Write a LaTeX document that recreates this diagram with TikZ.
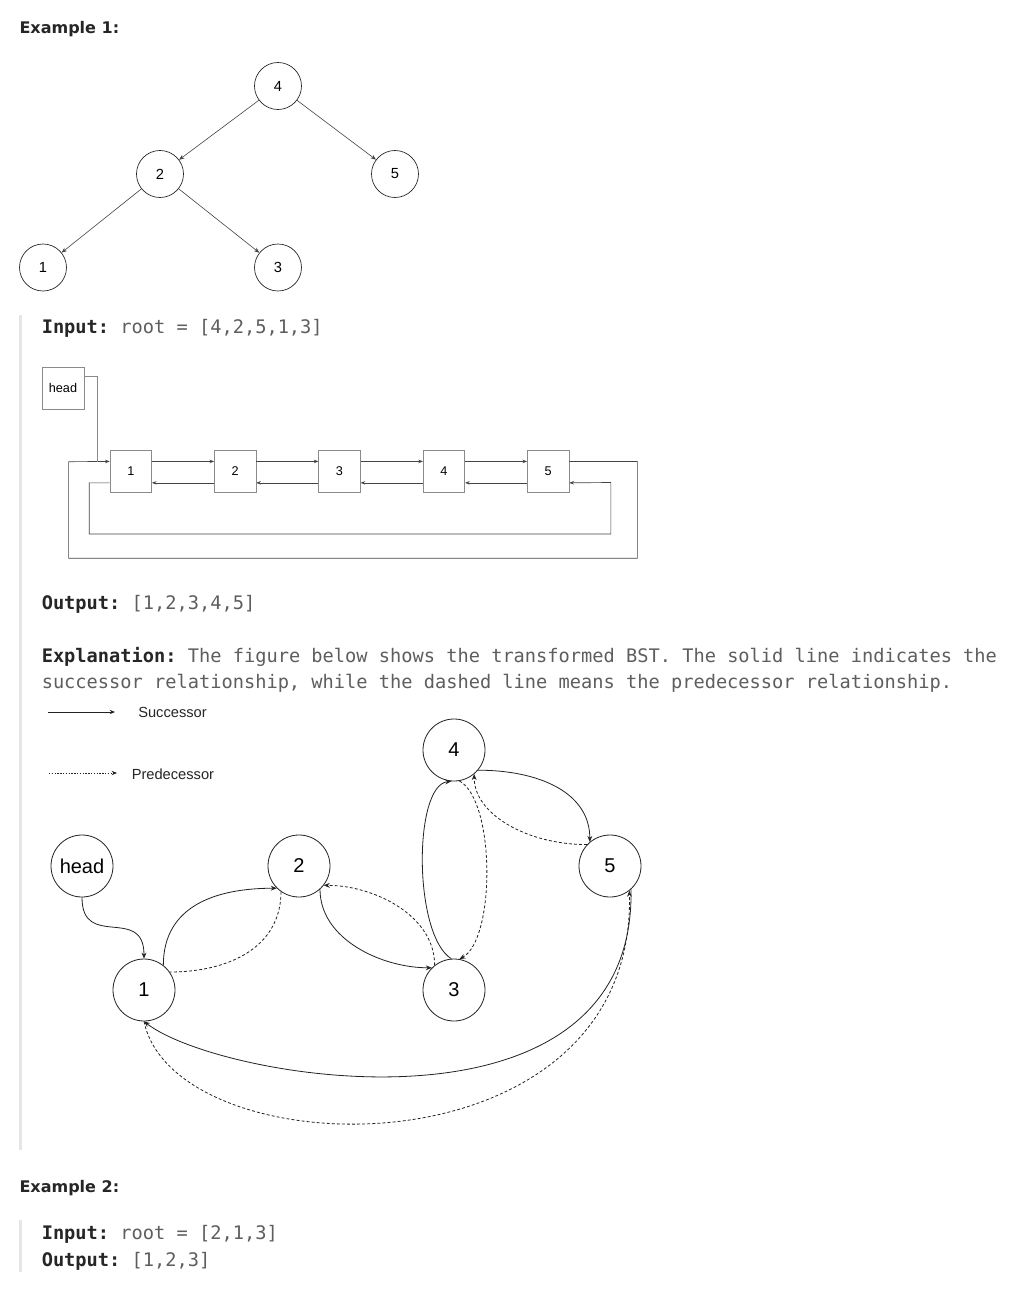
\documentclass[tikz,border=0pt]{standalone}
\usepackage{fontspec}
\setmainfont{Liberation Sans}
\newfontfamily\monof{DejaVu Sans Mono}
\newfontfamily\headf{DejaVu Sans}
\usetikzlibrary{arrows.meta,calc}
\definecolor{txt}{HTML}{262626}
\definecolor{gtx}{HTML}{5E5E5E}
\definecolor{barc}{HTML}{E6E6E6}
\definecolor{ln}{HTML}{222222}
\definecolor{lst}{HTML}{444444}
\definecolor{lbx}{HTML}{8A8A8A}
\frenchspacing
\begin{document}
\begin{tikzpicture}[x=0.75pt,y=-0.75pt,
  txtnode/.style={anchor=base west,inner sep=0pt,text=txt},
  codefont/.style={font=\monof\frenchspacing\fontsize{14}{16}\selectfont},
  headfont/.style={font=\headf\bfseries\fontsize{12}{14}\selectfont},
  tnode/.style={circle,draw=ln,line width=0.5pt,minimum size=35.25pt,inner sep=0pt,font=\fontsize{11}{13}\selectfont},
  tedge/.style={line width=0.45pt,draw=lst,-{Stealth[length=4pt,width=3.2pt]}},
  lbox/.style={rectangle,draw=lbx,line width=0.5pt,minimum size=31.1pt,inner sep=0pt,font=\fontsize{9.5}{11}\selectfont},
  ledge/.style={line width=0.5pt,draw=lst,-{Stealth[length=3.5pt,width=2.6pt]}},
  bnode/.style={circle,draw=ln,line width=0.6pt,minimum size=46.5pt,inner sep=0pt,font=\fontsize{15}{18}\selectfont},
  succ/.style={line width=0.6pt,draw=ln,-{Stealth[length=4.5pt,width=3.6pt]}},
  pred/.style={succ,dash pattern=on 2.2pt off 1.6pt},
  predline/.style={line width=0.6pt,draw=ln,dash pattern=on 2.2pt off 1.6pt},
  legtext/.style={anchor=base west,inner sep=0pt,text=txt,font=\fontsize{11}{13}\selectfont},
]
\useasboundingbox (0,0) rectangle (1016,1296);
\fill[white] (0,0) rectangle (1016,1296);

% quote bars
\fill[barc] (19,315) rectangle (21.5,1150);
\fill[barc] (19,1220) rectangle (21.5,1272);

% headings and text
\node[txtnode,headfont] (ex1) at (19.3,33.3) {Example 1:};
\node[txtnode,codefont] (in1) at (41.5,333.3) {\textbf{Input:} \textcolor{gtx}{root = [4,2,5,1,3]}};
\node[txtnode,codefont] (out1) at (41.5,609.3) {\textbf{Output:} \textcolor{gtx}{[1,2,3,4,5]}};
\node[txtnode,codefont] (expl1) at (41.5,662.3) {\textbf{Explanation:} \textcolor{gtx}{The figure below shows the transformed BST. The solid line indicates the}};
\node[txtnode,codefont,text=gtx] (expl2) at (41.5,688.3) {successor relationship, while the dashed line means the predecessor relationship.};
\node[txtnode,headfont] (ex2) at (19.3,1192.3) {Example 2:};
\node[txtnode,codefont] (in2) at (41.5,1239.3) {\textbf{Input:} \textcolor{gtx}{root = [2,1,3]}};
\node[txtnode,codefont] (out2) at (41.5,1266.7) {\textbf{Output:} \textcolor{gtx}{[1,2,3]}};

% tree
\node[tnode] (t4) at (278,86) {4};
\node[tnode] (t2) at (160,174) {2};
\node[tnode] (t5) at (395,174) {5};
\node[tnode] (t1) at (43,267.5) {1};
\node[tnode] (t3) at (278,267.5) {3};
\draw[tedge] (t4) -- (t2);
\draw[tedge] (t4) -- (t5);
\draw[tedge] (t2) -- (t1);
\draw[tedge] (t2) -- (t3);

% linked list
\node[lbox,minimum size=31.5pt] (hd) at (63,388) {head};
\foreach \i/\x in {1/130.8,2/235.2,3/339.5,4/444,5/548.2}
  \node[lbox] (b\i) at (\x,471.5) {\i};
\foreach \i/\j in {1/2,2/3,3/4,4/5}{
  \draw[ledge] ([yshift=-8.25pt]b\i.north east) -- ([yshift=-8.25pt]b\j.north west);
  \draw[ledge] ([yshift=7.3pt]b\j.south west) -- ([yshift=7.3pt]b\i.south east);
}
\coordinate (orc) at (637.4,558.3);
\coordinate (olc) at (68.6,461.7);
\coordinate (ilc) at (89.2,534);
\coordinate (irc) at (610.9,482.5);
\coordinate (hj) at (97.6,461.7);
\draw[ledge] ([yshift=-8.25pt]b5.north east) -| (orc) -| (olc) -- ([yshift=-8.25pt]b1.north west);
\draw[ledge] ([yshift=7.3pt]b1.south west) -| (ilc) -| (irc) -- ([yshift=7.3pt]b5.south east);
\draw[line width=0.5pt,draw=lbx] ([yshift=-7.5pt]hd.north east) -| (hj);

% legend
\coordinate (ls1) at (48,712);
\coordinate (ls2) at (115,712);
\coordinate (lp1) at (49,773);
\coordinate (lp2) at (117,773);
\draw[line width=0.6pt,draw=ln,-{Stealth[length=4pt,width=3.2pt]}] (ls1) -- (ls2);
\draw[line width=0.6pt,draw=ln,dash pattern=on 1pt off 1.1pt,-{Stealth[length=4pt,width=3.2pt]}] (lp1) -- (lp2);
\node[legtext] (lsucc) at (138,717.3) {Successor};
\node[legtext] (lpred) at (131.5,779.3) {Predecessor};

% transformed list
\node[bnode] (hh) at (82,866) {head};
\node[bnode] (n1) at (144,990) {1};
\node[bnode] (n2) at (299,866) {2};
\node[bnode] (n3) at (454,990) {3};
\node[bnode] (n4) at (454,750) {4};
\node[bnode] (n5) at (610,866) {5};

\draw[succ] (hh.south) .. controls +(0,53) and +(0,-54) .. (n1.north);
\draw[succ] (n1.52) .. controls +(0,-60) and +(-60,0) .. (n2.225);
\draw[predline] (n2.235) .. controls +(0,55) and +(60,0) .. (n1.35);
\draw[succ] (n2.-48) .. controls +(0,50) and +(-50,0) .. (n3.135);
\draw[pred] (n3.128) .. controls +(0,-50) and +(50,0) .. (n2.-38);
\draw[succ] (n3.95) .. controls +(-38,-24) and +(-38,4) .. (n4.265);
\draw[pred] (n4.280) .. controls +(36,20) and +(36,-20) .. (n3.80);
\draw[succ] (n4.-40) .. controls +(60,0) and +(0,-50) .. (n5.130);
\draw[pred] (n5.137) .. controls +(-60,0) and +(0,40) .. (n4.-50);
\draw[succ] (n5.-48) .. controls +(5,261) and +(76,59) .. (n1.south);
\draw[pred] (n1.south) .. controls +(31,149) and +(7,290) .. (n5.-52);
\end{tikzpicture}
\end{document}
